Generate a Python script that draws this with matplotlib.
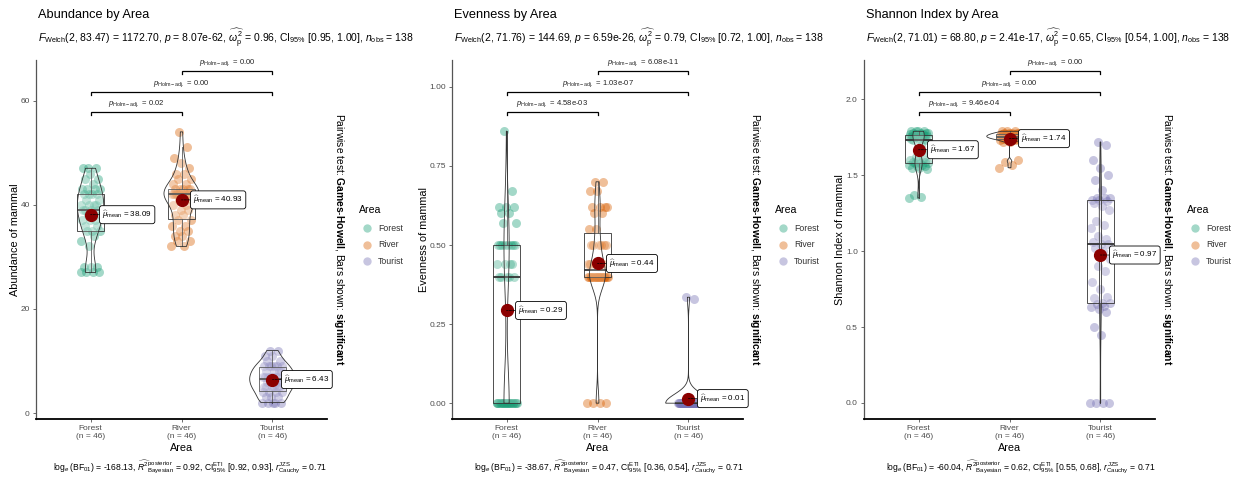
import numpy as np
import matplotlib
matplotlib.use('Agg')
import matplotlib.pyplot as plt

plt.rcParams['font.family'] = ['Liberation Sans', 'DejaVu Sans']
plt.rcParams['mathtext.fontset'] = 'custom'
plt.rcParams['mathtext.rm'] = 'Liberation Sans'
plt.rcParams['mathtext.it'] = 'Liberation Sans:italic'
plt.rcParams['mathtext.bf'] = 'Liberation Sans:bold'
plt.rcParams['mathtext.sf'] = 'Liberation Sans'

# ---------------- data ----------------
areas = ['Forest', 'River', 'Tourist']
area_colors = ['#1B9E77', '#D95F02', '#7570B3']

abund_forest = [27, 27, 27, 27, 28, 28, 28, 32, 33, 34, 35, 35,
                35, 36, 36, 37, 37, 37, 38, 38, 38, 39, 39,
                39, 39, 40, 40, 40, 40, 41, 41, 42, 42, 42, 42,
                43, 43, 43, 43, 44, 45, 45, 46, 47, 47, 47]
abund_river = [32, 32, 33, 33, 34, 34, 35, 35, 36, 36, 37, 37,
               38, 38, 39, 39, 40, 40, 41, 41, 41, 42, 42,
               42, 42, 42, 42, 42, 42, 42, 43, 43, 43, 43, 43,
               44, 44, 45, 45, 46, 46, 47, 48, 49, 51, 54]
abund_tourist = [2, 2, 2, 2, 2, 3, 3, 3, 4, 4, 4, 4,
                 5, 5, 5, 5, 5, 5, 6, 6, 6, 6, 6,
                 7, 7, 7, 7, 7, 7, 7, 8, 8, 8, 8, 9,
                 9, 9, 9, 9, 9, 10, 10, 11, 11, 12, 12]

even_forest = [0.0] * 20 + [0.40] * 5 + [0.44] * 4 + [0.50] * 7 + \
              [0.50, 0.57, 0.57, 0.60, 0.60, 0.62, 0.62, 0.62, 0.67, 0.86]
even_river = [0.0] * 4 + [0.40] * 19 + [0.44] * 5 + [0.50] * 6 + \
             [0.55, 0.55, 0.60, 0.60, 0.62, 0.62, 0.62, 0.62, 0.67, 0.67, 0.70, 0.70]
even_tourist = [0.0] * 44 + [0.33, 0.335]

shan_forest = [1.35, 1.36, 1.37, 1.54, 1.55, 1.55, 1.56, 1.56, 1.57, 1.57, 1.58, 1.58,
               1.58, 1.59, 1.59, 1.60, 1.60, 1.61, 1.62, 1.65, 1.70, 1.73, 1.73] + \
              [1.74] * 3 + [1.75] * 4 + [1.76] * 4 + [1.77] * 4 + [1.78] * 4 + [1.79] * 4
shan_river = [1.55, 1.57, 1.59, 1.60] + [1.72] * 2 + [1.73] * 3 + [1.74] * 6 + \
             [1.75] * 8 + [1.76] * 8 + [1.77] * 7 + [1.78] * 5 + [1.79] * 3
shan_tourist = [0, 0, 0, 0, 0.45, 0.50, 0.60, 0.62, 0.63, 0.64, 0.65, 0.66,
                0.66, 0.69, 0.70, 0.75, 0.80, 0.87, 0.90, 0.95, 1.00, 1.02, 1.05,
                1.05, 1.06, 1.08, 1.10, 1.15, 1.17, 1.20, 1.27, 1.30, 1.32, 1.33, 1.34,
                1.34, 1.35, 1.35, 1.35, 1.40, 1.47, 1.50, 1.55, 1.60, 1.70, 1.72]

titles = ['Abundance by Area', 'Evenness by Area', 'Shannon Index by Area']
ylabels = ['Abundance of mammal', 'Evenness of mammal', 'Shannon Index of mammal']

welch_df2 = ['83.47', '71.76', '71.01']
welch_F = ['1172.70', '144.69', '68.80']
welch_p = ['8.07e-62', '6.59e-26', '2.41e-17']
omega = ['0.96', '0.79', '0.65']
omega_ci = ['[0.95, 1.00]', '[0.72, 1.00]', '[0.54, 1.00]']

bf01 = ['-168.13', '-38.67', '-60.04']
r2_bayes = ['0.92', '0.47', '0.62']
r2_ci = ['[0.92, 0.93]', '[0.36, 0.54]', '[0.55, 0.68]']

# pairwise comparisons: (Forest-River, Forest-Tourist, River-Tourist)
pair_idx = [(0, 1), (0, 2), (1, 2)]
pair_p = [['0.02', '0.00', '0.00'],
          ['4.58e-03', '1.03e-07', '6.08e-11'],
          ['9.46e-04', '0.00', '0.00']]

# ---------------- helpers ----------------
def nrd0(x):
    x = np.asarray(x, float)
    hi = np.std(x, ddof=1)
    q75, q25 = np.percentile(x, [75, 25])
    lo = min(hi, (q75 - q25) / 1.34)
    if lo == 0:
        lo = hi if hi else (abs(x[0]) if x[0] else 1.0)
    return 0.9 * lo * len(x) ** -0.2


def kde(x, grid):
    x = np.asarray(x, float)
    bw = nrd0(x)
    z = (grid[:, None] - x[None, :]) / bw
    return np.exp(-0.5 * z ** 2).sum(1) / (len(x) * bw * np.sqrt(2 * np.pi))


W, H = 1240, 479
fig = plt.figure(figsize=(W / 100, H / 100), dpi=100)
ov = fig.add_axes([0, 0, 1, 1])
ov.set_xlim(0, W)
ov.set_ylim(H, 0)
ov.axis('off')
ov.set_zorder(10)


def px_axes(left, top, width, height):
    return fig.add_axes([left / W, 1 - (top + height) / H, width / W, height / H])


panels = [
    dict(data=[abund_forest, abund_river, abund_tourist], left=36, ylim=(-1.15, 67.8),
         yticks=[0, 20, 40, 60], fmt='{:.0f}', bry=[57.8, 61.7, 65.7], ylx=15),
    dict(data=[even_forest, even_river, even_tourist], left=452, ylim=(-0.05, 1.085),
         yticks=[0, 0.25, 0.5, 0.75, 1.0], fmt='{:.2f}', bry=[0.921, 0.984, 1.05], ylx=424),
    dict(data=[shan_forest, shan_river, shan_tourist], left=864, ylim=(-0.106, 2.26),
         yticks=[0, 0.5, 1.0, 1.5, 2.0], fmt='{:.1f}', bry=[1.92, 2.05, 2.19], ylx=840),
]

TOP, BOT = 60, 419
PW = 291
for k, P in enumerate(panels):
    ax = px_axes(P['left'], TOP, PW, BOT - TOP)
    ax.patch.set_alpha(0)
    for s in ['top', 'right']:
        ax.spines[s].set_visible(False)
    ax.spines['left'].set_color('#555555')
    ax.spines['left'].set_linewidth(0.9)
    ax.spines['bottom'].set_color('black')
    ax.spines['bottom'].set_linewidth(1.3)

    yr = P['ylim'][1] - P['ylim'][0]
    upp = yr / (BOT - TOP)  # data units per pixel

    # violin densities (area scaling)
    dens = []
    for d in P['data']:
        g = np.linspace(min(d), max(d), 512)
        dens.append((g, kde(d, g)))
    dmax = max(v.max() for _, v in dens)

    for i, d in enumerate(P['data']):
        x0 = i + 1
        n = len(d)
        jit = ((np.arange(n) * 29) % n) / (n - 1) * 0.22 - 0.11
        ax.scatter(x0 + jit, d, s=42, color=area_colors[i], alpha=0.4, lw=0, zorder=1)
        bp = ax.boxplot([d], positions=[x0], widths=0.3, whis=1.5, showfliers=False,
                        showcaps=False, patch_artist=True, manage_ticks=False,
                        boxprops=dict(facecolor=(1, 1, 1, 0.2), edgecolor='#333333', lw=0.6),
                        whiskerprops=dict(color='#333333', lw=0.6),
                        medianprops=dict(color='#333333', lw=1.3))
        for art in bp['boxes'] + bp['whiskers'] + bp['medians']:
            art.set_zorder(2)
        g, v = dens[i]
        hw = v / dmax * 0.25
        ax.fill(np.concatenate([x0 - hw, (x0 + hw)[::-1]]), np.concatenate([g, g[::-1]]),
                facecolor=(1, 1, 1, 0.2), edgecolor='#333333', lw=0.6, zorder=3)
        m = float(np.mean(d))
        ax.plot([x0], [m], 'o', color='#8B0000', ms=8.5, zorder=4)
        ax.annotate(r'$\widehat{\mu}_{\mathrm{mean}}$ = ' + f'{m:.2f}', xy=(x0, m),
                    xytext=(x0 + 0.13, m), ha='left', va='center', fontsize=5.8,
                    bbox=dict(boxstyle='round,pad=0.35,rounding_size=0.3', fc='white',
                              ec='black', lw=0.6),
                    arrowprops=dict(arrowstyle='-', lw=0.5, color='black', ls='--',
                                    shrinkA=0, shrinkB=0), zorder=5)

    ax.set_xlim(0.4, 3.6)
    ax.set_ylim(*P['ylim'])
    ax.set_yticks(P['yticks'])
    ax.set_yticklabels([P['fmt'].format(v) for v in P['yticks']])
    ax.set_xticks([1, 2, 3])
    ax.set_xticklabels([f'{a}\n(n = {len(d)})' for a, d in zip(areas, P['data'])])
    ax.tick_params(axis='both', labelsize=6, colors='#555555', length=2.5, width=0.6,
                   labelcolor='#4D4D4D', pad=2)
    for lab in ax.get_xticklabels():
        lab.set_linespacing(1.1)

    # significance brackets
    tick = 3 * upp
    for (a, b), yb, ptxt in zip(pair_idx, P['bry'], pair_p[k]):
        ax.plot([a + 1, a + 1, b + 1, b + 1], [yb - tick, yb, yb, yb - tick], color='black',
                lw=0.9, clip_on=False, solid_joinstyle='miter')
        ax.annotate(r'$p_{\mathrm{Holm-adj.}}$ = ' + ptxt, xy=((a + b) / 2 + 1, yb),
                    xytext=(0, 2), textcoords='offset points', ha='center', va='bottom',
                    fontsize=5.5, color='#222222', annotation_clip=False)

    L = P['left']
    R = L + PW
    cx = (L + R) / 2
    # titles
    ov.text(L + 2, 15, titles[k], fontsize=9.2, ha='left', va='center')
    sub = (r'$F_{\mathrm{Welch}}$(2, ' + welch_df2[k] + ') = ' + welch_F[k] +
           r', $p$ = ' + welch_p[k] + r', $\widehat{\omega_{\mathrm{p}}^2}$ = ' + omega[k] +
           r', CI$_{95\%}$ ' + omega_ci[k] + r', $n_{\mathrm{obs}}$ = 138')
    ov.text(L + 2, 38, sub, fontsize=7.5, ha='left', va='center')
    # axis labels
    ov.text(P['ylx'], (TOP + BOT) / 2, ylabels[k], rotation=90, fontsize=7.8,
            ha='center', va='center')
    ov.text(cx, 448, 'Area', fontsize=7.8, ha='center', va='center')
    # caption
    cap = (r'$\log_{e}(\mathrm{BF}_{01})$ = ' + bf01[k] +
           r', $\widehat{R^2}_{\mathrm{Bayesian}}^{\mathrm{posterior}}$ = ' + r2_bayes[k] +
           r', CI$_{95\%}^{\mathrm{ETI}}$ ' + r2_ci[k] +
           r', $r_{\mathrm{Cauchy}}^{\mathrm{JZS}}$ = 0.71')
    ov.text(R, 467, cap, fontsize=6.2, ha='right', va='center')
    # rotated pairwise note
    ov.text(R + 12, (TOP + BOT) / 2,
            r'Pairwise test: $\mathbf{Games}$-$\mathbf{Howell}$, Bars shown: $\mathbf{significant}$',
            rotation=270, fontsize=7.4, ha='center', va='center')
    # legend
    lx = R + 32
    ov.text(lx, 210, 'Area', fontsize=7.6, ha='left', va='center')
    for j, (a, c) in enumerate(zip(areas, area_colors)):
        yy = 228 + j * 16.5
        ov.plot([lx + 8], [yy], 'o', color=c, alpha=0.4, ms=6, mew=0)
        ov.text(lx + 19, yy, a, fontsize=6.3, ha='left', va='center', color='#333333')

fig.savefig('out.png', dpi=100)
